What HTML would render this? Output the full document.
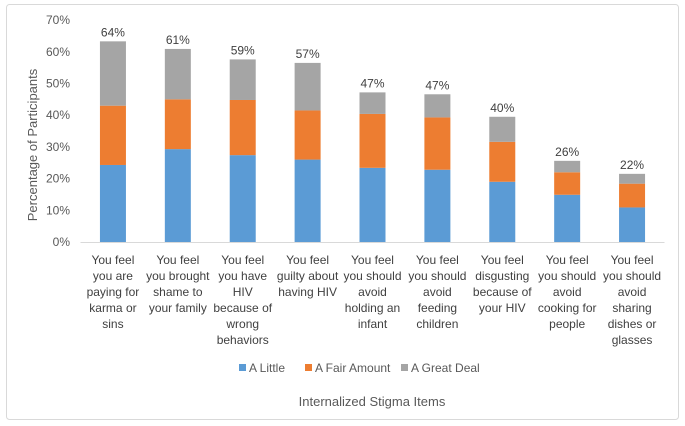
<!DOCTYPE html>
<html><head><meta charset="utf-8">
<style>
html,body{margin:0;padding:0;background:#fff;}
svg{display:block;font-family:"Liberation Sans",sans-serif;}
</style></head>
<body>
<svg id="chart" width="685" height="426" viewBox="0 0 685 426" xmlns="http://www.w3.org/2000/svg">
<rect x="6.5" y="4.5" width="672" height="415" rx="3" fill="#fff" stroke="#d9d9d9"/>
<g id="plot"></g>
</svg>
<script>
const categories=[
 ["You feel","you are","paying for","karma or","sins"],
 ["You feel","you brought","shame to","your family"],
 ["You feel","you have","HIV","because of","wrong","behaviors"],
 ["You feel","guilty about","having HIV"],
 ["You feel","you should","avoid","holding an","infant"],
 ["You feel","you should","avoid","feeding","children"],
 ["You feel","disgusting","because of","your HIV"],
 ["You feel","you should","avoid","cooking for","people"],
 ["You feel","you should","avoid","sharing","dishes or","glasses"]
];
const aLittle=[24.3,29.3,27.4,26.0,23.4,22.8,19.0,14.9,10.9];
const aFairAmount=[18.7,15.7,17.4,15.5,17.0,16.5,12.6,7.1,7.5];
const aGreatDeal=[20.3,15.9,12.8,15.0,6.8,7.3,7.9,3.6,3.1];
const totalLabels=["64%","61%","59%","57%","47%","47%","40%","26%","22%"];
const yTicks=[0,10,20,30,40,50,60,70];
const seriesNames=["A Little","A Fair Amount","A Great Deal"];
const colors=["#5B9BD5","#ED7D31","#A5A5A5"];

const NS="http://www.w3.org/2000/svg";
const g=document.getElementById('plot');
const x0=80.5,x1=664.5,yBase=242,pxPer=3.17;
const bw=(x1-x0)/categories.length, barW=26;
const yS=v=>yBase-v*pxPer;
const xC=i=>x0+bw*(i+0.5);
function mk(tag,attrs,text){const e=document.createElementNS(NS,tag);for(const k in attrs)e.setAttribute(k,attrs[k]);if(text!==undefined)e.textContent=text;g.appendChild(e);return e;}

yTicks.forEach(t=>{
 const e=mk('text',{x:70,y:yS(t)+4,'text-anchor':'end','font-size':12,fill:'#595959'},t+'%');
 
 
});
const series=[aLittle,aFairAmount,aGreatDeal];
categories.forEach((c,i)=>{
 let acc=0;
 series.forEach((s,k)=>{
  const r=mk('rect',{x:xC(i)-barW/2,y:yS(acc+s[i]),width:barW,height:s[i]*pxPer,fill:colors[k]});
  
  
  acc+=s[i];
 });
 const tl=mk('text',{x:xC(i),y:yS(acc)-5,'text-anchor':'middle','font-size':12,fill:'#404040'},totalLabels[i]);
 
 
 c.forEach((line,j)=>{
  const e=mk('text',{x:xC(i),y:264+j*16,'text-anchor':'middle','font-size':12,fill:'#404040'},line);
  
  
 });
});
const ax=mk('line',{x1:x0,x2:x1,y1:yBase+0.5,y2:yBase+0.5,stroke:'#d9d9d9'});


const yt=mk('text',{transform:'translate(37,145) rotate(-90)','text-anchor':'middle','font-size':13,fill:'#595959'},'Percentage of Participants');


const xt=mk('text',{x:372,y:406,'text-anchor':'middle','font-size':13,fill:'#595959'},'Internalized Stigma Items');


const legX=[239,305,401];
seriesNames.forEach((n,k)=>{
 const r=mk('rect',{x:legX[k],y:364,width:7,height:7,fill:colors[k]});
 
 
 const t=mk('text',{x:legX[k]+10,y:372,'font-size':12,fill:'#595959'},n);
 
 
});
</script>
</body></html>
